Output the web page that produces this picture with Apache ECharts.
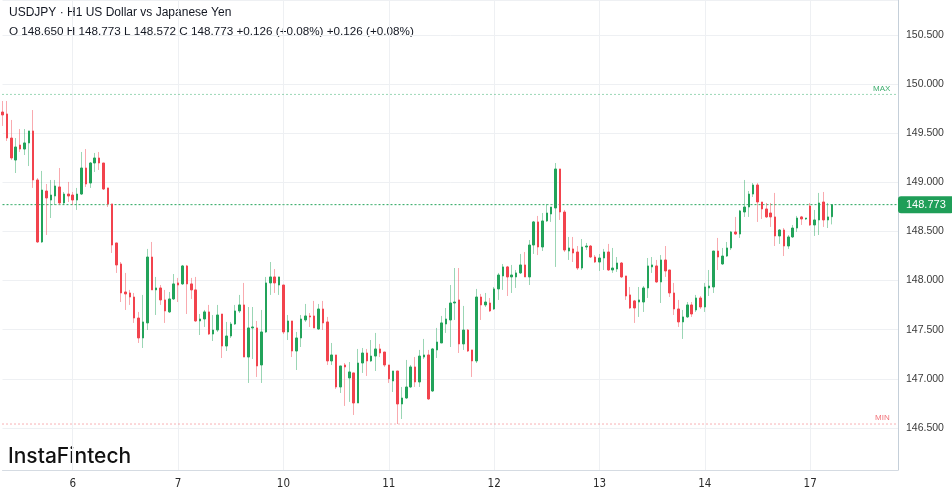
<!DOCTYPE html>
<html>
<head>
<meta charset="utf-8">
<script src="https://cdn.jsdelivr.net/npm/echarts@6/dist/echarts.min.js"></script>
<style>
html,body{margin:0;padding:0;background:#fff;}
#chart{width:952px;height:494px;}
</style>
</head>
<body>
<div id="chart"></div>
<script>
// ---- DATA (USDJPY H1) ----
const opens = [
149.716,149.696,149.451,149.227,149.380,149.339,149.401,149.523,149.024,148.393,
148.912,148.820,148.861,148.953,148.790,148.881,148.871,148.820,148.881,149.146,
148.993,149.197,149.248,149.197,148.943,148.780,148.383,148.169,147.884,147.874,
147.833,147.619,147.416,147.569,148.240,147.905,147.925,147.803,147.681,147.813,
147.976,147.966,148.149,147.966,147.905,147.589,147.609,147.681,147.456,147.497,
147.660,147.334,147.436,147.558,147.691,147.752,147.222,147.518,147.518,147.141,
147.477,147.976,148.037,147.955,147.955,147.477,147.589,147.283,147.416,147.599,
147.640,147.640,147.507,147.711,147.579,147.182,147.243,146.917,147.141,147.009,
147.060,146.754,147.161,147.263,147.182,147.232,147.304,147.273,147.141,146.978,
147.080,146.744,146.805,146.917,147.121,146.968,147.222,147.243,146.876,147.294,
147.365,147.558,147.599,147.772,147.803,147.355,147.497,147.294,147.182,147.833,
147.752,147.772,147.711,147.915,148.047,148.139,148.037,148.037,148.078,148.159,
148.037,148.362,148.597,148.342,148.607,148.678,148.739,149.136,148.698,148.301,
148.322,148.291,148.128,148.342,148.352,148.240,148.189,148.230,148.291,148.108,
148.118,148.179,148.047,147.854,147.793,147.782,147.782,147.925,148.139,148.149,
147.986,148.210,148.108,147.874,147.711,147.579,147.630,147.752,147.701,147.823,
147.731,147.925,147.935,148.301,148.169,148.250,148.332,148.495,148.474,148.698,
148.749,148.881,148.973,148.800,148.729,148.688,148.648,148.454,148.515,148.352,
148.444,148.535,148.648,148.627,148.759,148.566,148.617,148.800,148.617,148.650];

const closes = [
149.686,149.451,149.248,149.360,149.339,149.401,149.523,149.024,148.393,148.922,
148.841,148.871,148.963,148.790,148.881,148.861,148.820,148.881,149.146,148.983,
149.197,149.248,149.197,148.932,148.780,148.362,148.159,147.874,147.864,147.833,
147.619,147.416,147.579,148.240,147.905,147.925,147.803,147.691,147.813,147.966,
147.955,148.149,147.966,147.905,147.589,147.609,147.681,147.456,147.497,147.650,
147.334,147.436,147.558,147.691,147.752,147.222,147.518,147.528,147.131,147.477,
147.976,148.037,147.976,148.037,147.477,147.589,147.283,147.416,147.609,147.640,
147.630,147.518,147.711,147.569,147.182,147.243,146.917,147.131,147.121,147.070,
146.754,147.161,147.263,147.182,147.232,147.304,147.263,147.141,146.999,147.080,
146.744,146.805,146.917,147.121,146.968,147.232,147.243,146.795,147.304,147.375,
147.569,147.609,147.772,147.782,147.355,147.497,147.283,147.182,147.833,147.752,
147.782,147.691,147.915,148.057,148.139,148.037,148.057,148.078,148.159,148.037,
148.362,148.597,148.342,148.607,148.688,148.749,149.136,148.698,148.311,148.332,
148.281,148.128,148.342,148.352,148.240,148.189,148.230,148.291,148.108,148.128,
148.179,148.037,147.843,147.721,147.721,147.803,147.925,148.149,148.159,147.986,
148.210,148.098,147.874,147.711,147.579,147.630,147.752,147.660,147.823,147.731,
147.935,147.945,148.301,148.240,148.250,148.332,148.495,148.474,148.709,148.749,
148.881,148.973,148.800,148.729,148.648,148.648,148.454,148.515,148.352,148.444,
148.535,148.637,148.627,148.637,148.566,148.617,148.790,148.617,148.648,148.773];

const highs = [
149.828,149.828,149.635,149.451,149.543,149.543,149.523,149.736,149.044,149.116,
148.983,149.024,149.024,149.146,148.902,149.004,148.902,148.943,149.309,149.339,
149.207,149.299,149.309,149.197,148.943,148.780,148.383,148.189,148.078,147.905,
147.874,147.681,147.854,148.322,148.393,148.037,147.955,147.905,147.884,148.067,
148.027,148.159,148.159,148.027,148.037,147.660,147.701,147.752,147.650,147.752,
147.660,147.579,147.579,147.752,147.854,147.976,147.731,147.731,147.589,147.701,
148.037,148.189,148.118,148.037,147.955,147.650,147.589,147.477,147.650,147.762,
147.670,147.793,147.762,147.793,147.630,147.365,147.243,147.131,147.161,147.171,
147.060,147.304,147.314,147.304,147.395,147.467,147.355,147.273,147.141,147.080,
147.080,146.917,147.192,147.141,147.222,147.294,147.406,147.294,147.314,147.518,
147.640,147.721,147.955,148.128,148.128,147.742,147.507,147.294,147.915,147.864,
147.874,147.823,147.935,148.078,148.169,148.149,148.159,148.108,148.271,148.291,
148.413,148.607,148.658,148.688,148.780,148.749,149.197,149.136,148.719,148.444,
148.444,148.352,148.423,148.383,148.362,148.260,148.271,148.322,148.373,148.332,
148.240,148.189,148.047,147.935,147.803,147.935,147.945,148.230,148.240,148.210,
148.260,148.352,148.108,147.976,147.803,147.701,147.782,147.782,147.854,147.843,
147.976,148.108,148.301,148.434,148.332,148.393,148.505,148.648,148.719,149.024,
148.912,148.993,148.993,148.800,148.790,148.790,148.892,148.525,148.535,148.464,
148.566,148.658,148.658,148.637,148.790,148.719,148.892,148.902,148.790,148.773];

const lows = [
149.574,149.421,149.227,149.095,149.309,149.278,149.166,148.943,148.383,148.383,
148.464,148.637,148.770,148.770,148.770,148.800,148.770,148.719,148.871,148.953,
148.943,149.105,149.126,148.922,148.749,148.281,148.078,147.782,147.701,147.752,
147.569,147.365,147.314,147.497,147.905,147.650,147.752,147.569,147.670,147.803,
147.782,147.955,147.660,147.813,147.579,147.446,147.528,147.446,147.385,147.477,
147.212,147.283,147.416,147.548,147.670,147.222,146.958,147.202,147.019,146.958,
147.467,147.854,147.874,147.854,147.456,147.395,147.222,147.090,147.324,147.579,
147.528,147.518,147.497,147.497,147.141,147.141,146.897,146.856,146.724,146.765,
146.632,146.754,147.060,147.029,147.171,147.080,147.222,147.121,146.958,146.866,
146.540,146.591,146.795,146.907,146.917,146.917,147.202,146.785,146.866,147.212,
147.365,147.467,147.324,147.599,147.263,147.294,147.273,147.019,147.161,147.599,
147.731,147.681,147.701,147.803,147.905,147.843,147.874,147.925,148.067,148.037,
147.955,148.271,148.260,148.301,148.597,148.597,148.139,148.617,148.291,148.210,
148.189,148.108,148.108,148.311,148.230,148.179,148.098,148.108,148.098,148.078,
148.088,148.027,147.803,147.711,147.569,147.630,147.681,147.823,148.078,147.976,
147.772,148.037,147.833,147.650,147.528,147.406,147.619,147.630,147.681,147.711,
147.681,147.843,147.874,148.108,148.159,148.240,148.311,148.464,148.434,148.648,
148.648,148.851,148.597,148.627,148.637,148.546,148.352,148.373,148.250,148.322,
148.434,148.495,148.566,148.617,148.556,148.454,148.464,148.546,148.535,148.572];

const dayLabels = ['6', '7', '10', '11', '12', '13', '14', '17'];
const firstDayLabel = '5';
const firstDayStartSlot = 16;   // first candle is 5th, 08:00
const hoursPerDay = 24;
const totalSlots = 205;         // candles + empty space on the right
const maxLevel = 149.895;
const yTicks = [146.5, 147.0, 147.5, 148.0, 148.5, 149.0, 149.5, 150.0, 150.5];

const titleText = 'USDJPY \u00B7 H1 US Dollar vs Japanese Yen';
const lastIdx = closes.length - 1;
const lastClose = closes[lastIdx];
const ohlcText = 'O ' + opens[lastIdx].toFixed(3) + ' H ' + highs[lastIdx].toFixed(3) +
  ' L ' + lows[lastIdx].toFixed(3) + ' C ' + lastClose.toFixed(3) +
  ' +0.126 (+0.08%) +0.126 (+0.08%)';

// ---- build categories ----
const slots = [];
for (let s = 0; s < totalSlots; s++) {
  const rel = s - firstDayStartSlot;
  let day, hour;
  if (rel < 0) { day = firstDayLabel; hour = 24 + rel; }
  else {
    const d = Math.min(Math.floor(rel / hoursPerDay), dayLabels.length - 1);
    day = dayLabels[d];
    hour = rel - d * hoursPerDay;
  }
  slots.push(day + ' ' + String(hour).padStart(2, '0') + ':00');
}
const isDayStart = (v) => /\s00:00$/.test(v);

const wickData = opens.map((o, i) => [o, closes[i], lows[i], highs[i]]);
const bodyData = opens.map((o, i) => [o, closes[i], Math.min(o, closes[i]), Math.max(o, closes[i])]);
const minLevel = Math.min.apply(null, lows);
const levelLine = (v) => slots.map(() => v);

const GREEN = '#22a35a';
const RED = '#f2434d';

function levelSeries(name, value, color, dash, label) {
  return {
    type: 'line', name: name, silent: true, z: 1,
    data: levelLine(value), showSymbol: false, symbol: 'none', color: color,
    lineStyle: {color: color, type: dash, width: 1},
    endLabel: label
  };
}

const chart = echarts.init(document.getElementById('chart'), null, {renderer: 'canvas'});
chart.setOption({
  animation: false,
  backgroundColor: '#ffffff',
  grid: {left: 2.5, right: 54, top: 0, bottom: 24, containLabel: false},
  xAxis: {
    type: 'category',
    data: slots,
    boundaryGap: false,
    axisLine: {show: true, lineStyle: {color: '#d5dbe2', width: 1}},
    axisTick: {show: false},
    axisLabel: {
      interval: (idx, val) => isDayStart(val),
      formatter: (val) => val.split(' ')[0],
      color: '#2a2a2a', fontSize: 11.5, fontFamily: "'DejaVu Sans Condensed', 'Roboto', sans-serif", margin: 8
    },
    splitLine: {show: true, interval: (idx, val) => isDayStart(val), lineStyle: {color: '#eef0f3', width: 1}}
  },
  yAxis: {
    type: 'value',
    position: 'right',
    min: 146.072,
    max: 150.856,
    splitNumber: 10,
    axisLine: {show: true, lineStyle: {color: '#c5cfd9', width: 1}},
    axisTick: {show: false},
    axisLabel: {
      showMinLabel: false, showMaxLabel: false,
      formatter: (v) => yTicks.some(t => Math.abs(t - v) < 1e-6) ? v.toFixed(3) : '',
      color: '#3a3a3a', fontSize: 10.5, fontFamily: 'Liberation Sans', margin: 8
    },
    splitLine: {show: true, lineStyle: {color: '#eef0f3', width: 1}}
  },
  series: [
    levelSeries('max', maxLevel, '#36ad6c', [1, 3], {
      show: true, formatter: 'MAX', color: '#3fae6f', fontSize: 8, fontFamily: 'Liberation Sans',
      distance: 0, offset: [-25, -6]
    }),
    levelSeries('min', minLevel, '#f0606a', [1, 3], {
      show: true, formatter: 'MIN', color: '#f2737a', fontSize: 8, fontFamily: 'Liberation Sans',
      distance: 0, offset: [-23, -6]
    }),
    levelSeries('last', lastClose, GREEN, [2, 2], {
      show: true, distance: 0,
      formatter: () => lastClose.toFixed(3),
      backgroundColor: '#1f9e58', color: '#ffffff', fontSize: 11, fontFamily: 'Liberation Sans',
      padding: [3, 8, 3, 8], borderRadius: 3
    }),
    {
      type: 'candlestick',
      name: 'wicks',
      silent: true,
      barWidth: 1,
      data: wickData,
      itemStyle: {
        color: 'rgba(34,163,90,0.45)', color0: 'rgba(242,67,77,0.45)',
        borderColor: 'rgba(34,163,90,0.45)', borderColor0: 'rgba(242,67,77,0.45)',
        borderWidth: 1
      }
    },
    {
      type: 'candlestick',
      name: 'bodies',
      silent: true,
      barWidth: 2,
      data: bodyData,
      itemStyle: {color: GREEN, color0: RED, borderColor: GREEN, borderColor0: RED, borderWidth: 1}
    }
  ],
  graphic: [
    {type: 'text', left: 9, top: 7, style: {text: titleText, fill: '#131722', fontSize: 12, fontFamily: 'Liberation Sans'}},
    {type: 'text', left: 9, top: 26, style: {text: ohlcText, fill: '#131722', fontSize: 11.7, fontFamily: 'Liberation Sans'}},
    {type: 'text', left: 8, top: 446, style: {text: 'InstaFintech', fill: '#111111', fontSize: 21, fontFamily: 'Inter', fontWeight: 500}}
  ]
});
</script>
</body>
</html>
